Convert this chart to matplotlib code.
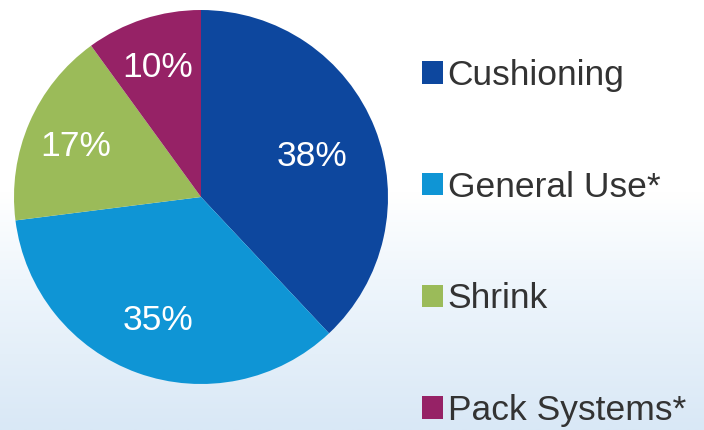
import numpy as np
import matplotlib
matplotlib.use("Agg")
import matplotlib.pyplot as plt
from matplotlib.colors import LinearSegmentedColormap

plt.rcParams['font.family'] = ['Liberation Sans', 'DejaVu Sans']

# Market share by segment
categories = ["Cushioning", "General Use*", "Shrink", "Pack Systems*"]
shares = [38, 35, 17, 10]
colors = ["#0d479e", "#0f95d5", "#9bbb59", "#962266"]
label_radius = [0.64, 0.68, 0.73, 0.75]

fig = plt.figure(figsize=(7.04, 4.30), dpi=100)

# soft light-blue wash toward the bottom of the slide
bg = fig.add_axes([0, 0, 1, 1], zorder=-10)
grad = np.linspace(0, 1, 256).reshape(-1, 1)
cmap = LinearSegmentedColormap.from_list(
    "wash", [(0.0, "#d9e8f6"), (0.35, "#eff6fc"), (0.55, "#ffffff"), (1.0, "#ffffff")])
bg.imshow(grad, aspect="auto", cmap=cmap, origin="lower", extent=[0, 1, 0, 1])
bg.set_axis_off()

ax = fig.add_axes([14 / 704, 46 / 430, 374 / 704, 374 / 430])
wedges, _ = ax.pie(shares, colors=colors, startangle=90, counterclock=False,
                   radius=1.0, wedgeprops=dict(linewidth=0))
for w, v, r in zip(wedges, shares, label_radius):
    mid = np.deg2rad((w.theta1 + w.theta2) / 2)
    ax.text(r * np.cos(mid), r * np.sin(mid), f"{v}%", color="white",
            fontsize=25.5, ha="center", va="center_baseline")
ax.set_xlim(-1, 1)
ax.set_ylim(-1, 1)
ax.set_aspect("equal")
ax.set_axis_off()

leg = fig.legend(wedges, categories, loc="upper left",
                 bbox_to_anchor=(422 / 704, 1 - 59 / 430),
                 frameon=False, prop=dict(size=25.5),
                 handlelength=0.6, handleheight=0.6, handletextpad=0.12,
                 labelspacing=2.22, borderpad=0, borderaxespad=0)
for t in leg.get_texts():
    t.set_color("#333333")

fig.savefig("out.png", dpi=100)
